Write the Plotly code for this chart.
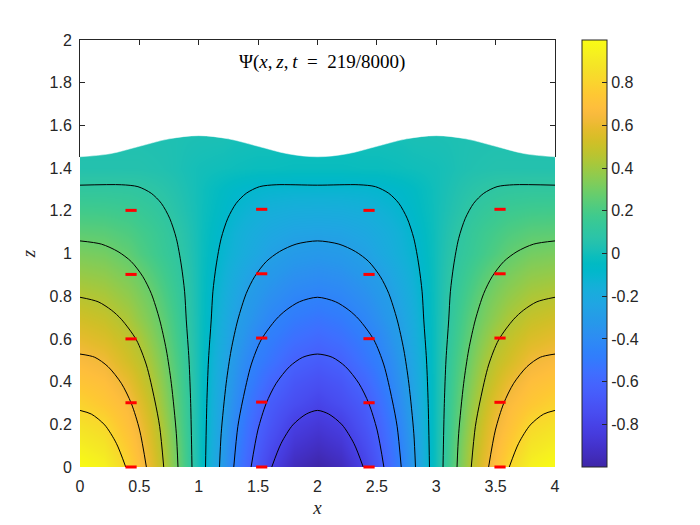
import plotly.graph_objects as go

x_grid = [0, .2, .4, .5, .6, .7, .8, .9, 1, 1.1, 1.2, 1.3, 1.4, 1.5, 1.6, 1.8, 2,
          2.2, 2.4, 2.5, 2.6, 2.7, 2.8, 2.9, 3, 3.1, 3.2, 3.3, 3.4, 3.5, 3.6, 3.8, 4]
z_grid = [0, .1, .2, .3, .4, .5, .6, .7, .8, .9, 1.0, 1.1, 1.2, 1.3, 1.4, 1.6]

psi_00 = [1.00, .95, .806, .70, .589, .466, .318, .166, 0, -.166, -.318, -.466, -.589, -.70, -.806, -.95, -1.00,
          -.95, -.806, -.70, -.589, -.466, -.318, -.166, 0, .166, .318, .466, .589, .70, .806, .95, 1.00]
psi_01 = [.932, .885, .75, .662, .558, .444, .307, .158, 0, -.158, -.307, -.444, -.558, -.662, -.75, -.885, -.932,
          -.885, -.75, -.662, -.558, -.444, -.307, -.158, 0, .158, .307, .444, .558, .662, .75, .885, .932]
psi_02 = [.864, .822, .695, .627, .528, .416, .28, .147, 0, -.147, -.28, -.416, -.528, -.627, -.695, -.822, -.864,
          -.822, -.695, -.627, -.528, -.416, -.28, -.147, 0, .147, .28, .416, .528, .627, .695, .822, .864]
psi_03 = [.796, .74, .66, .58, .49, .38, .262, .139, 0, -.139, -.262, -.38, -.49, -.58, -.66, -.74, -.796,
          -.74, -.66, -.58, -.49, -.38, -.262, -.139, 0, .139, .262, .38, .49, .58, .66, .74, .796]
psi_04 = [.728, .69, .598, .526, .452, .349, .242, .13, 0, -.13, -.242, -.349, -.452, -.526, -.598, -.69, -.728,
          -.69, -.598, -.526, -.452, -.349, -.242, -.13, 0, .13, .242, .349, .452, .526, .598, .69, .728]
psi_05 = [.66, .624, .526, .479, .407, .317, .22, .122, 0, -.122, -.22, -.317, -.407, -.479, -.526, -.624, -.66,
          -.624, -.526, -.479, -.407, -.317, -.22, -.122, 0, .122, .22, .317, .407, .479, .526, .624, .66]
psi_06 = [.592, .555, .483, .436, .361, .286, .197, .108, 0, -.108, -.197, -.286, -.361, -.436, -.483, -.555, -.592,
          -.555, -.483, -.436, -.361, -.286, -.197, -.108, 0, .108, .197, .286, .361, .436, .483, .555, .592]
psi_07 = [.524, .495, .428, .373, .318, .256, .177, .097, 0, -.097, -.177, -.256, -.318, -.373, -.428, -.495, -.524,
          -.495, -.428, -.373, -.318, -.256, -.177, -.097, 0, .097, .177, .256, .318, .373, .428, .495, .524]
psi_08 = [.456, .432, .372, .33, .287, .221, .156, .087, 0, -.087, -.156, -.221, -.287, -.33, -.372, -.432, -.456,
          -.432, -.372, -.33, -.287, -.221, -.156, -.087, 0, .087, .156, .221, .287, .33, .372, .432, .456]
psi_09 = [.388, .37, .32, .289, .239, .187, .135, .076, 0, -.076, -.135, -.187, -.239, -.289, -.32, -.37, -.388,
          -.37, -.32, -.289, -.239, -.187, -.135, -.076, 0, .076, .135, .187, .239, .289, .32, .37, .388]
psi_10 = [.32, .306, .262, .222, .186, .149, .113, .061, 0, -.061, -.113, -.149, -.186, -.222, -.262, -.306, -.32,
          -.306, -.262, -.222, -.186, -.149, -.113, -.061, 0, .061, .113, .149, .186, .222, .262, .306, .32]
psi_11 = [.252, .245, .215, .19, .165, .135, .098, .05, 0, -.05, -.098, -.135, -.165, -.19, -.215, -.245, -.252,
          -.245, -.215, -.19, -.165, -.135, -.098, -.05, 0, .05, .098, .135, .165, .19, .215, .245, .252]
psi_12 = [.184, .18, .165, .148, .13, .105, .07, .035, 0, -.035, -.07, -.105, -.13, -.148, -.165, -.18, -.184,
          -.18, -.165, -.148, -.13, -.105, -.07, -.035, 0, .035, .07, .105, .13, .148, .165, .18, .184]
psi_13 = [.116, .115, .11, .103, .09, .072, .05, .025, 0, -.025, -.05, -.072, -.09, -.103, -.11, -.115, -.116,
          -.115, -.11, -.103, -.09, -.072, -.05, -.025, 0, .025, .05, .072, .09, .103, .11, .115, .116]
psi_14 = [.05, .05, .05, .05, .045, .04, .03, .015, .005, 0, -.005, -.01, -.015, -.02, -.02, -.025, -.025,
          -.025, -.02, -.02, -.015, -.01, -.005, 0, .005, .015, .03, .04, .045, .05, .05, .05, .05]
psi_16 = [.03, .03, .03, .03, .03, .03, .03, .03, .03, .03, .03, .02, .02, .02, .02, .01, .01,
          .01, .02, .02, .02, .02, .03, .03, .03, .03, .03, .03, .03, .03, .03, .03, .03]
psi_rows = [psi_00, psi_01, psi_02, psi_03, psi_04, psi_05, psi_06, psi_07,
            psi_08, psi_09, psi_10, psi_11, psi_12, psi_13, psi_14, psi_16]

# contour curves: left corner, middle arch, right corner, per level
c1_z = [.265, .248, .197, .111, 0]
c1_left_x = [0, .095, .208, .306, .385]
c1_right_x = [4, 3.905, 3.792, 3.694, 3.615]
a1_x = [1.615, 1.694, 1.792, 1.905, 2, 2.095, 2.208, 2.306, 2.385]
a1_z = [0, .111, .197, .248, .265, .248, .197, .111, 0]

c2_z = [.529, .514, .47, .392, .298, .173, 0]
c2_left_x = [0, .124, .236, .348, .432, .502, .559]
c2_right_x = [4, 3.876, 3.764, 3.652, 3.568, 3.498, 3.441]
a2_x = [1.441, 1.498, 1.568, 1.652, 1.764, 1.876, 2, 2.124, 2.236, 2.348, 2.432, 2.502, 2.559]
a2_z = [0, .173, .298, .392, .47, .514, .529, .514, .47, .392, .298, .173, 0]

c3_z = [.795, .774, .735, .692, .595, .478, .314, .189, 0]
c3_left_x = [0, .152, .264, .348, .475, .559, .629, .671, .705]
c3_right_x = [4, 3.848, 3.736, 3.652, 3.525, 3.441, 3.371, 3.329, 3.295]
a3_x = [1.295, 1.329, 1.371, 1.441, 1.525, 1.652, 1.736, 1.848, 2,
        2.152, 2.264, 2.348, 2.475, 2.559, 2.629, 2.671, 2.705]
a3_z = [0, .189, .314, .478, .595, .692, .735, .774, .795,
        .774, .735, .692, .595, .478, .314, .189, 0]

c4_z = [1.059, 1.044, 1.009, .962, .891, .813, .689, .548, .392, .158, 0]
c4_left_x = [0, .18, .32, .432, .53, .60, .671, .727, .769, .811, .825]
c4_right_x = [4, 3.82, 3.68, 3.568, 3.47, 3.40, 3.329, 3.273, 3.231, 3.189, 3.175]
a4_x = [1.175, 1.189, 1.231, 1.273, 1.329, 1.40, 1.47, 1.568, 1.68, 1.82, 2,
        2.18, 2.32, 2.432, 2.53, 2.60, 2.671, 2.727, 2.769, 2.811, 2.825]
a4_z = [0, .158, .392, .548, .689, .813, .891, .962, 1.009, 1.044, 1.059,
        1.044, 1.009, .962, .891, .813, .689, .548, .392, .158, 0]

c5_z = [1.32, 1.322, 1.313, 1.282, 1.235, 1.165, 1.071, .946, .821, .689, .501, .298, 0]
c5_left_x = [0, .348, .488, .60, .685, .755, .811, .853, .881, .895, .918, .932, .943]
c5_right_x = [4, 3.652, 3.512, 3.40, 3.315, 3.245, 3.189, 3.147, 3.119, 3.105, 3.082, 3.068, 3.057]
a5_x = [1.057, 1.068, 1.082, 1.105, 1.119, 1.147, 1.189, 1.245, 1.315, 1.40, 1.512, 1.652, 2,
        2.348, 2.488, 2.60, 2.685, 2.755, 2.811, 2.853, 2.881, 2.895, 2.918, 2.932, 2.943]
a5_z = [0, .298, .501, .689, .821, .946, 1.071, 1.165, 1.235, 1.282, 1.313, 1.322, 1.32,
        1.322, 1.313, 1.282, 1.235, 1.165, 1.071, .946, .821, .689, .501, .298, 0]

contour_curves = [
    (c1_left_x, c1_z), (c1_right_x, c1_z), (a1_x, a1_z),
    (c2_left_x, c2_z), (c2_right_x, c2_z), (a2_x, a2_z),
    (c3_left_x, c3_z), (c3_right_x, c3_z), (a3_x, a3_z),
    (c4_left_x, c4_z), (c4_right_x, c4_z), (a4_x, a4_z),
    (c5_left_x, c5_z), (c5_right_x, c5_z), (a5_x, a5_z),
]

surface_x = [0, .25, .5, .75, 1, 1.25, 1.5, 1.75, 2, 2.25, 2.5, 2.75, 3, 3.25, 3.5, 3.75, 4]
surface_z = [1.453, 1.467, 1.502, 1.537, 1.552, 1.537, 1.502, 1.467, 1.453,
             1.467, 1.502, 1.537, 1.552, 1.537, 1.502, 1.467, 1.453]
top_z = [2] * len(surface_x)

probe_x = [.43] * 5 + [1.53] * 5 + [2.434] * 5 + [3.537] * 5
probe_z = [0, .301, .60, .902, 1.202,
           0, .304, .604, .905, 1.207,
           0, .301, .601, .902, 1.202,
           0, .303, .604, .905, 1.207]

x_ticks = [0, .5, 1, 1.5, 2, 2.5, 3, 3.5, 4]
x_labels = ["0", "0.5", "1", "1.5", "2", "2.5", "3", "3.5", "4"]
z_ticks = [0, .2, .4, .6, .8, 1, 1.2, 1.4, 1.6, 1.8, 2]
z_labels = ["0", "0.2", "0.4", "0.6", "0.8", "1", "1.2", "1.4", "1.6", "1.8", "2"]
cb_ticks = [-.8, -.6, -.4, -.2, 0, .2, .4, .6, .8]
cb_labels = ["-0.8", "-0.6", "-0.4", "-0.2", "0", "0.2", "0.4", "0.6", "0.8"]
frame_z_ticks = [1.6, 1.8, 2]
frame_z_base = 1.453

parula = [
    [.2422, .1504, .6603], [.2504, .1650, .7076], [.2578, .1818, .7511], [.2647, .1978, .7952],
    [.2706, .2147, .8364], [.2751, .2342, .8710], [.2783, .2559, .8991], [.2803, .2782, .9221],
    [.2813, .3006, .9414], [.2810, .3228, .9579], [.2795, .3447, .9717], [.2760, .3667, .9829],
    [.2699, .3892, .9906], [.2602, .4123, .9952], [.2440, .4358, .9988], [.2206, .4603, .9973],
    [.1963, .4847, .9892], [.1834, .5074, .9798], [.1786, .5289, .9682], [.1764, .5499, .9520],
    [.1687, .5703, .9359], [.1540, .5902, .9218], [.1460, .6091, .9079], [.1380, .6276, .8973],
    [.1248, .6459, .8883], [.1113, .6635, .8763], [.0952, .6798, .8598], [.0689, .6948, .8394],
    [.0297, .7082, .8163], [.0036, .7203, .7917], [.0067, .7312, .7660], [.0433, .7411, .7394],
    [.0964, .7500, .7120], [.1408, .7584, .6842], [.1717, .7670, .6554], [.1938, .7758, .6251],
    [.2161, .7843, .5923], [.2470, .7918, .5567], [.2906, .7973, .5188], [.3406, .8008, .4789],
    [.3909, .8029, .4354], [.4456, .8024, .3909], [.5044, .7993, .3480], [.5616, .7942, .3045],
    [.6174, .7876, .2612], [.6720, .7793, .2227], [.7242, .7698, .1910], [.7738, .7598, .1646],
    [.8203, .7498, .1535], [.8634, .7406, .1596], [.9035, .7330, .1774], [.9393, .7288, .2100],
    [.9728, .7298, .2394], [.9956, .7434, .2371], [.9970, .7659, .2199], [.9952, .7861, .1990],
    [.9892, .8137, .1885], [.9786, .8376, .1766], [.9676, .8620, .1640], [.9610, .8901, .1537],
    [.9597, .9153, .1423], [.9628, .9400, .1265], [.9691, .9664, .0988], [.9769, .9839, .0805],
]
colorscale = [[i / (len(parula) - 1), f"rgb({r*255:.0f},{g*255:.0f},{b*255:.0f})"]
              for i, (r, g, b) in enumerate(parula)]

INK = "#262626"
SANS = "Liberation Sans, Arial, sans-serif"
SERIF = "Liberation Serif, serif"
CLEAR = "rgba(0,0,0,0)"

fig = go.Figure()
fig.add_trace(go.Heatmap(
    x=x_grid, y=z_grid, z=psi_rows, zmin=-1, zmax=1, zsmooth="best",
    colorscale=colorscale, hoverinfo="skip",
    colorbar=dict(
        x=1.057, xanchor="left", xpad=0, y=0.5, yanchor="middle", ypad=0,
        len=1, lenmode="fraction", thickness=25, thicknessmode="pixels",
        tickmode="array", tickvals=cb_ticks, ticktext=cb_labels,
        ticks="inside", ticklen=5, tickcolor=INK, tickwidth=1,
        outlinecolor=INK, outlinewidth=1,
        tickfont=dict(family=SANS, size=16, color=INK),
    ),
))
for cx, cz in contour_curves:
    fig.add_trace(go.Scatter(
        x=cx, y=cz, mode="lines", showlegend=False, hoverinfo="skip",
        line=dict(color="black", width=1, shape="spline", smoothing=0.8),
    ))
fig.add_trace(go.Scatter(
    x=surface_x, y=top_z, mode="lines", line=dict(color=CLEAR, width=0),
    showlegend=False, hoverinfo="skip",
))
fig.add_trace(go.Scatter(
    x=surface_x, y=surface_z, mode="lines", line=dict(color="white", width=0.5, shape="spline", smoothing=1),
    fill="tonexty", fillcolor="white", showlegend=False, hoverinfo="skip",
))
fig.add_trace(go.Scatter(
    x=probe_x, y=probe_z, mode="markers", cliponaxis=False, showlegend=False, hoverinfo="skip",
    marker=dict(symbol="line-ew", size=8, color="red", line=dict(color="red", width=3)),
))
# empty trace that brings up the frame drawn over the white part of the axes
fig.add_trace(go.Scatter(x=[None], y=[None], xaxis="x2", yaxis="y2", showlegend=False, hoverinfo="skip"))

label_axis = dict(
    showgrid=False, zeroline=False, showline=False, ticks="outside", tickcolor=CLEAR,
    tickfont=dict(family=SANS, size=16, color=INK), tickmode="array",
)
frame_axis = dict(
    showgrid=False, zeroline=False, showline=True, linecolor=INK, linewidth=1,
    ticks="inside", ticklen=5, tickcolor=INK, tickwidth=1, showticklabels=False, tickmode="array",
)
fig.update_layout(
    width=700, height=525, autosize=False, showlegend=False,
    margin=dict(l=72, r=153, t=32, b=66),
    paper_bgcolor="white", plot_bgcolor=CLEAR,
    xaxis=dict(label_axis, range=[0, 4], tickvals=x_ticks, ticktext=x_labels, ticklen=5,
               title=dict(text="<i>x</i>", font=dict(family=SERIF, size=19, color=INK), standoff=6)),
    yaxis=dict(label_axis, range=[0, 2], tickvals=z_ticks, ticktext=z_labels, ticklen=4,
               title=dict(text="<i>z</i>", font=dict(family=SERIF, size=19, color=INK), standoff=8)),
    xaxis2=dict(frame_axis, range=[0, 4], domain=[0, 1], anchor="y2", side="top", tickvals=x_ticks),
    yaxis2=dict(frame_axis, range=[frame_z_base, 2], domain=[frame_z_base / 2, 1], anchor="x2",
                mirror="ticks", tickvals=frame_z_ticks),
    annotations=[dict(
        x=2.038, y=1.897, xref="x", yref="y", showarrow=False,
        text="Ψ(<i>x</i>,\u2009<i>z</i>,\u2009<i>t</i>\u2002=\u2002219/8000)",
        font=dict(family=SERIF, size=19, color="black"),
    )],
)
fig.write_html("out.html")
